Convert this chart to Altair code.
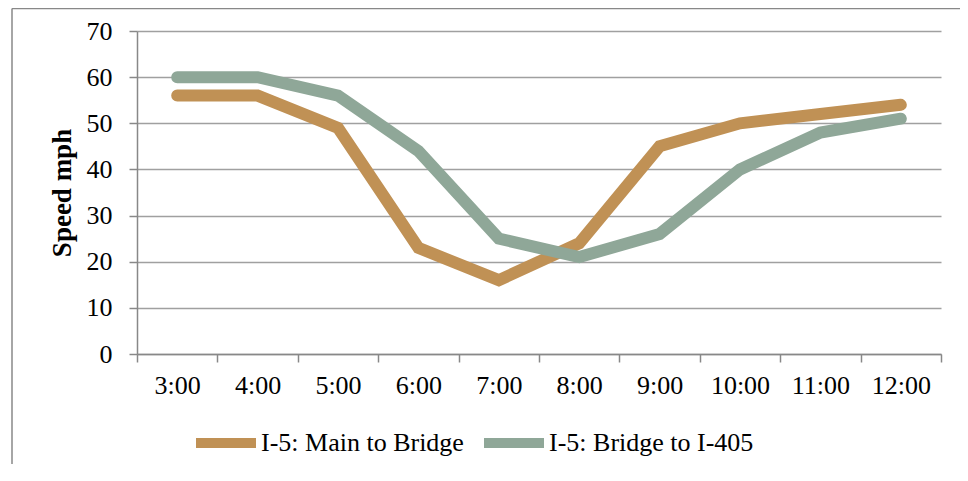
import altair as alt
import pandas as pd

times = ["3:00", "4:00", "5:00", "6:00", "7:00", "8:00", "9:00", "10:00", "11:00", "12:00"]
main_to_bridge = [56, 56, 49, 23, 16, 24, 45, 50, 52, 54]
bridge_to_405 = [60, 60, 56, 44, 25, 21, 26, 40, 48, 51]
series_names = ["I-5: Main to Bridge", "I-5: Bridge to I-405"]
series_colors = ["#C09155", "#8FA798"]
y_ticks = [0, 10, 20, 30, 40, 50, 60, 70]

rows = []
for name, vals in zip(series_names, [main_to_bridge, bridge_to_405]):
    for t, v in zip(times, vals):
        rows.append({"time": t, "speed": v, "series": name})
df = pd.DataFrame(rows)

FONT = "Liberation Serif"
W, H = 804, 323

x_enc = alt.X(
    "time:O", sort=times, bandPosition=0.5,
    scale=alt.Scale(type="band", paddingInner=0, paddingOuter=0),
    axis=alt.Axis(title=None, labelAngle=0, tickBand="extent", grid=False,
                  domainColor="#888888", domainWidth=1.5, tickColor="#888888",
                  tickWidth=1.5, tickSize=8, labelFontSize=26, labelColor="#000000",
                  labelPadding=10, labelFont=FONT),
)
y_enc = alt.Y(
    "speed:Q", scale=alt.Scale(domain=[0, 70], nice=False),
    axis=alt.Axis(values=y_ticks, title="Speed mph", titleFontSize=27,
                  titleFontWeight="bold", titleColor="#000000", titleFont=FONT,
                  titlePadding=10, grid=True, gridColor="#A0A0A0", gridWidth=1.5,
                  domainColor="#888888", domainWidth=1.5, tickColor="#888888",
                  tickWidth=1.5, tickSize=8, labelFontSize=26, labelColor="#000000",
                  labelPadding=17, labelFont=FONT),
)
color_enc = alt.Color(
    "series:N",
    scale=alt.Scale(domain=series_names, range=series_colors),
    legend=alt.Legend(title=None, orient="none", legendX=54, legendY=377,
                      direction="horizontal", symbolType="stroke", symbolSize=3600,
                      symbolStrokeWidth=10, labelFontSize=26, labelFont=FONT,
                      labelColor="#000000", labelOffset=0, columnPadding=0,
                      labelLimit=500),
)

layers = []
for name in series_names:
    layers.append(
        alt.Chart(df).transform_filter(alt.datum.series == name)
        .mark_line(strokeWidth=12, strokeCap="round", strokeJoin="miter")
        .encode(x=x_enc, y=y_enc, color=color_enc)
    )

frame_df = pd.DataFrame({"k": [0]})
left_border = alt.Chart(frame_df).mark_rule(color="#888888", strokeWidth=1.5).encode(
    x=alt.value(-125), y=alt.value(-22.5), y2=alt.value(H + 200)
)
top_border = alt.Chart(frame_df).mark_rule(color="#888888", strokeWidth=1.5).encode(
    x=alt.value(-125), x2=alt.value(W + 40), y=alt.value(-22.5)
)

chart = alt.layer(left_border, top_border, *layers).properties(
    width=W, height=H,
    autosize=alt.AutoSizeParams(type="none"),
    padding={"left": 129, "top": 23, "right": 19, "bottom": 110},
).configure(font=FONT).configure_view(stroke=None)

chart.save("out.html", embed_options={"renderer": "svg", "actions": False})
